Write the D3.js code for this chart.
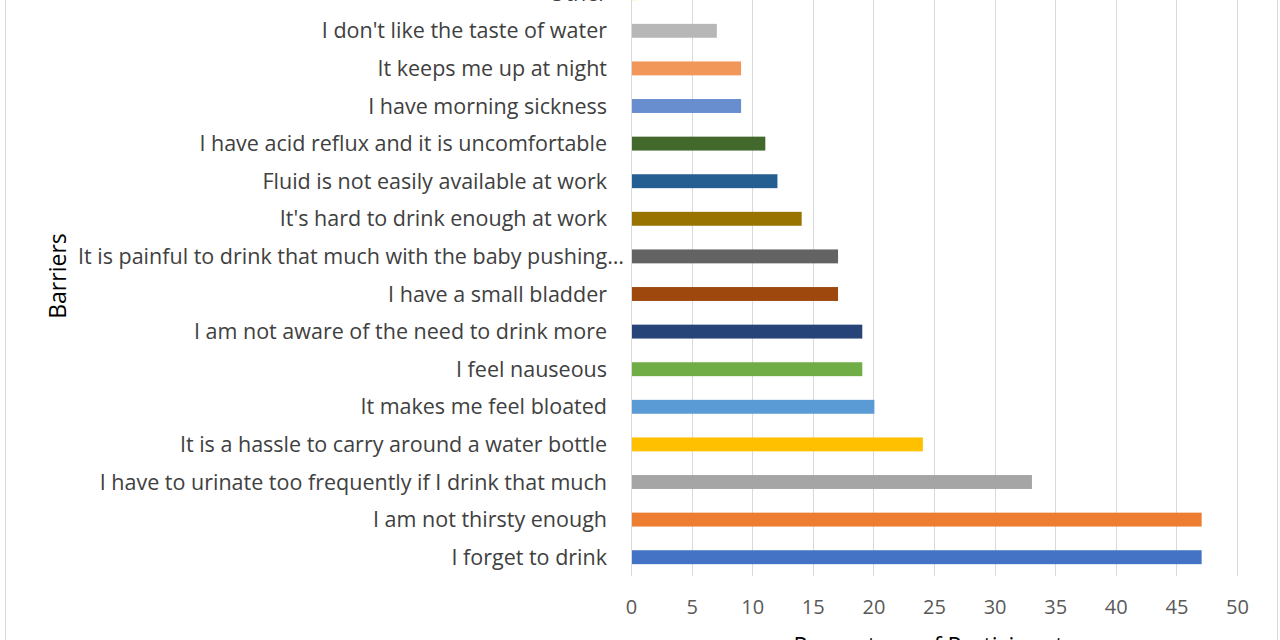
<!DOCTYPE html>
<html>
<head>
<meta charset="utf-8">
<script src="https://cdn.jsdelivr.net/npm/d3@7"></script>
<style>
  html, body { margin: 0; padding: 0; background: #fff; overflow: hidden; }
  svg { display: block; font-family: "Open Sans", sans-serif; }
</style>
</head>
<body>
<script>
// categories from bottom to top, as in the picture
var barriers = [
  "I forget to drink",
  "I am not thirsty enough",
  "I have to urinate too frequently if I drink that much",
  "It is a hassle to carry around a water bottle",
  "It makes me feel bloated",
  "I feel nauseous",
  "I am not aware of the need to drink more",
  "I have a small bladder",
  "It is painful to drink that much with the baby pushing on my bladder",
  "It's hard to drink enough at work",
  "Fluid is not easily available at work",
  "I have acid reflux and it is uncomfortable",
  "I have morning sickness",
  "It keeps me up at night",
  "I don't like the taste of water",
  "Other"
];
var percents = [47, 47, 33, 24, 20, 19, 19, 17, 17, 14, 12, 11, 9, 9, 7, 0.5];
var barColors = ["#4472C4", "#ED7D31", "#A5A5A5", "#FFC000", "#5B9BD5", "#70AD47",
  "#264478", "#9E480E", "#636363", "#997300", "#255E91", "#43682B",
  "#698ED0", "#F1975A", "#B7B7B7", "#FFCD33"];
var xTicks = [0, 5, 10, 15, 20, 25, 30, 35, 40, 45, 50];

var width = 1280, height = 640;
var plotLeft = 631, plotRight = 1237, plotBottom = 576, step = 37.6;
var plotTop = plotBottom - step * barriers.length;

var svg = d3.select("body").append("svg")
    .attr("width", width)
    .attr("height", height);

// chart border
svg.append("rect")
    .attr("x", 5.5).attr("y", -10)
    .attr("width", 1272).attr("height", 700)
    .attr("fill", "none")
    .attr("stroke", "#d9d9d9");

var x = d3.scaleLinear().domain([0, 50]).range([plotLeft, plotRight]);
var y = d3.scaleBand()
    .domain(barriers.slice().reverse())
    .range([plotTop, plotBottom])
    .paddingInner(0.63)
    .paddingOuter(0.315);

// gridlines
svg.append("g").selectAll("line")
  .data(xTicks)
  .enter().append("line")
    .attr("x1", function(d) { return Math.round(x(d)) + 0.5; })
    .attr("x2", function(d) { return Math.round(x(d)) + 0.5; })
    .attr("y1", plotTop)
    .attr("y2", plotBottom)
    .attr("stroke", "#d9d9d9");

// bars
svg.append("g").selectAll("rect")
  .data(barriers)
  .enter().append("rect")
    .attr("x", x(0) + 1)
    .attr("y", function(d) { return y(d); })
    .attr("width", function(d, i) { return x(percents[i]) - x(0); })
    .attr("height", y.bandwidth())
    .attr("fill", function(d, i) { return barColors[i]; });

// category labels
var labels = svg.append("g").selectAll("text")
  .data(barriers)
  .enter().append("text")
    .attr("x", 607)
    .attr("y", function(d) { return y(d) + y.bandwidth() / 2; })
    .attr("dy", "0.35em")
    .attr("text-anchor", "end")
    .attr("fill", "#404040")
    .style("font-size", "21.5px")
    .text(function(d) { return d; });

// truncate long labels with an ellipsis like the original
var maxLabel = 556;
labels.each(function() {
  var t = d3.select(this);
  var s = t.text();
  if (this.getComputedTextLength() > maxLabel) {
    while (s.length > 0 && this.getComputedTextLength() > maxLabel) {
      s = s.slice(0, -1);
      t.text(s.replace(/\s+$/, "") + "…");
    }
    t.attr("text-anchor", "start").attr("x", 78);
  }
});

// x axis
var xAxis = d3.axisBottom(x).tickValues(xTicks).tickSize(0).tickPadding(0);
var gx = svg.append("g")
    .attr("transform", "translate(0," + 600 + ")")
    .call(xAxis);
gx.select(".domain").remove();
gx.selectAll("text")
    .attr("fill", "#595959")
    .attr("dy", "0.71em")
    .style("font-size", "20px")
    .style("font-family", "'Open Sans', sans-serif");

// axis titles
svg.append("text")
    .attr("transform", "translate(66,276) rotate(-90)")
    .attr("text-anchor", "middle")
    .attr("fill", "#000")
    .style("font-size", "23px")
    .text("Barriers");

svg.append("text")
    .attr("x", (plotLeft + plotRight) / 2)
    .attr("y", 654)
    .attr("text-anchor", "middle")
    .attr("fill", "#000")
    .style("font-size", "23px")
    .text("Percentage of Participants");
</script>
</body>
</html>
